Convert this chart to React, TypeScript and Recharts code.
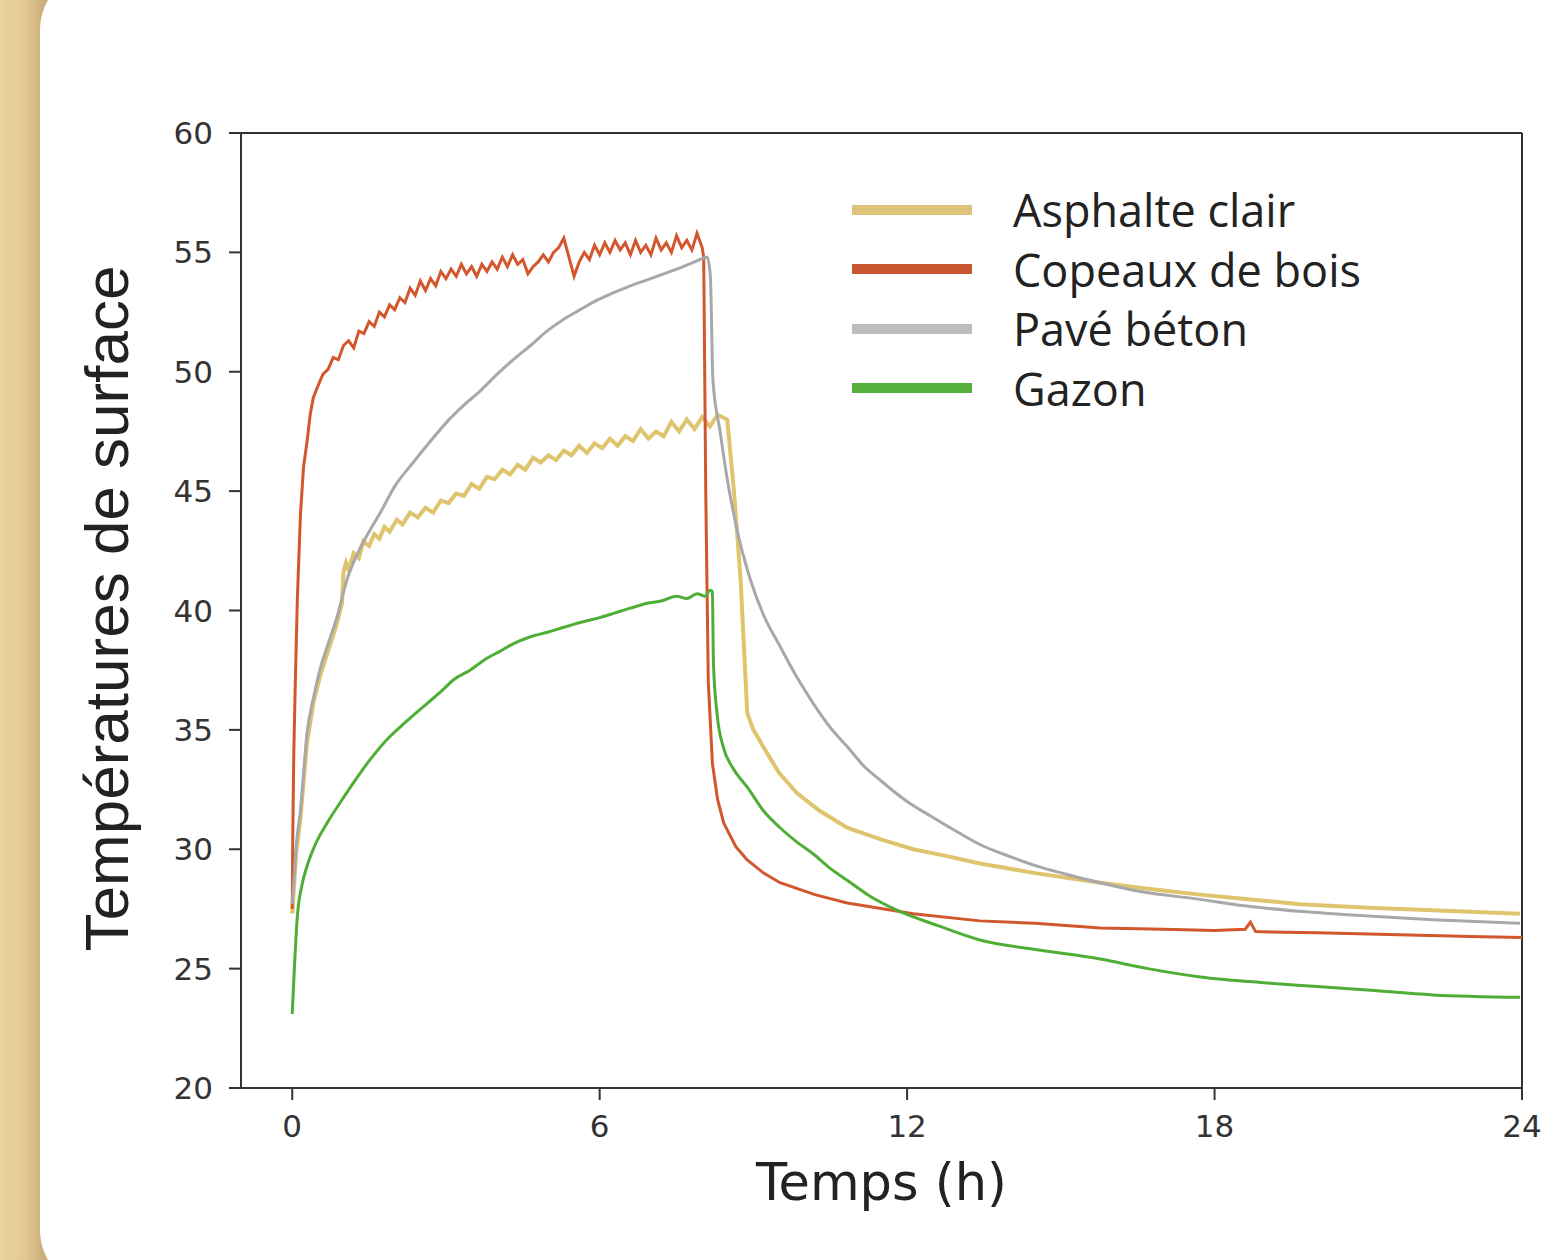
import { LineChart, Line, XAxis, YAxis, Legend, Label, ReferenceLine } from 'recharts'

// temps (h) / température (°C)
const asphalteT = [0, 0.03, 0.08, 0.16, 0.29, 0.42, 0.55, 0.7, 0.85, 0.97, 1.0, 1.05, 1.1, 1.2, 1.3, 1.39, 1.5, 1.6, 1.7, 1.8, 1.9, 2.04, 2.15, 2.3, 2.45, 2.6, 2.75, 2.9, 3.05, 3.2, 3.35, 3.5, 3.65, 3.8, 3.95, 4.1, 4.25, 4.4, 4.55, 4.7, 4.85, 5.0, 5.15, 5.3, 5.45, 5.6, 5.75, 5.9, 6.05, 6.2, 6.35, 6.5, 6.65, 6.8, 6.95, 7.1, 7.25, 7.4, 7.55, 7.7, 7.85, 8.0, 8.15, 8.3, 8.49, 8.62, 8.75, 8.88, 9.0, 9.19, 9.5, 9.85, 10.3, 10.83, 11.5, 12.12, 12.8, 13.42, 14.5, 15.77, 16.7, 17.72, 18.7, 19.67, 21, 22.26, 23.96]
const asphalteV = [27.3, 28.3, 29.9, 31.3, 34.5, 36.2, 37.3, 38.3, 39.3, 40.3, 41.6, 42.0, 41.7, 42.4, 42.2, 42.9, 42.7, 43.2, 43.0, 43.5, 43.3, 43.8, 43.6, 44.1, 43.9, 44.3, 44.1, 44.6, 44.5, 44.9, 44.8, 45.3, 45.1, 45.6, 45.5, 45.9, 45.7, 46.1, 45.9, 46.4, 46.2, 46.5, 46.3, 46.7, 46.5, 46.9, 46.6, 47.0, 46.8, 47.2, 46.9, 47.3, 47.1, 47.6, 47.2, 47.5, 47.3, 47.9, 47.5, 48.0, 47.6, 48.1, 47.7, 48.2, 48.0, 45.0, 41.3, 35.7, 35.0, 34.3, 33.2, 32.35, 31.6, 30.9, 30.4, 30.0, 29.7, 29.4, 29.0, 28.6, 28.35, 28.1, 27.9, 27.7, 27.55, 27.45, 27.3]

const copeauxT = [0, 0.01, 0.03, 0.06, 0.1, 0.16, 0.22, 0.29, 0.35, 0.41, 0.5, 0.6, 0.7, 0.8, 0.9, 1.0, 1.1, 1.2, 1.3, 1.4, 1.5, 1.6, 1.7, 1.8, 1.9, 2.0, 2.1, 2.2, 2.3, 2.4, 2.5, 2.6, 2.7, 2.8, 2.9, 3.0, 3.1, 3.2, 3.3, 3.4, 3.5, 3.6, 3.7, 3.8, 3.9, 4.0, 4.1, 4.2, 4.3, 4.4, 4.5, 4.6, 4.7, 4.8, 4.9, 5.0, 5.1, 5.2, 5.3, 5.4, 5.5, 5.6, 5.7, 5.8, 5.9, 6.0, 6.1, 6.2, 6.3, 6.4, 6.5, 6.6, 6.7, 6.8, 6.9, 7.0, 7.1, 7.2, 7.3, 7.4, 7.5, 7.6, 7.7, 7.8, 7.9, 8.0, 8.03, 8.07, 8.12, 8.2, 8.3, 8.42, 8.66, 8.88, 9.2, 9.52, 10.2, 10.83, 12.12, 13.42, 14.5, 15.77, 17, 18.0, 18.6, 18.7, 18.8, 20, 21, 22, 23, 24]
const copeauxV = [27.5, 30.5, 34.0, 37.0, 40.5, 44.0, 46.0, 47.1, 48.2, 48.9, 49.4, 49.9, 50.1, 50.6, 50.5, 51.1, 51.3, 51.0, 51.7, 51.6, 52.1, 51.9, 52.5, 52.3, 52.8, 52.6, 53.1, 52.9, 53.5, 53.2, 53.8, 53.4, 53.9, 53.6, 54.2, 53.9, 54.3, 54.0, 54.5, 54.1, 54.4, 54.0, 54.5, 54.2, 54.6, 54.3, 54.8, 54.4, 54.9, 54.5, 54.7, 54.1, 54.4, 54.6, 54.9, 54.6, 55.0, 55.2, 55.6, 54.8, 54.0, 54.6, 55.0, 54.7, 55.3, 54.9, 55.4, 55.0, 55.5, 55.1, 55.4, 54.9, 55.5, 55.0, 55.3, 54.9, 55.6, 55.1, 55.4, 55.0, 55.7, 55.2, 55.5, 55.1, 55.8, 55.2, 54.8, 45.0, 37.0, 33.6, 32.1, 31.1, 30.1, 29.55, 29.0, 28.6, 28.1, 27.75, 27.3, 27.0, 26.9, 26.7, 26.65, 26.6, 26.65, 26.95, 26.55, 26.5, 26.45, 26.4, 26.35, 26.3]

const paveT = [0, 0.03, 0.08, 0.16, 0.29, 0.42, 0.55, 0.7, 0.87, 1.07, 1.3, 1.5, 1.72, 2.0, 2.36, 2.7, 3.02, 3.35, 3.67, 4.0, 4.31, 4.65, 4.97, 5.3, 5.62, 5.95, 6.26, 6.6, 6.93, 7.25, 7.57, 7.85, 8.1, 8.16, 8.21, 8.35, 8.49, 8.7, 8.94, 9.2, 9.52, 9.85, 10.17, 10.5, 10.83, 11.15, 11.47, 12.0, 12.45, 13.0, 13.42, 14.0, 14.6, 15.2, 15.77, 16.5, 17.72, 18.7, 19.67, 21, 22.26, 23.96]
const paveV = [27.7, 28.6, 30.2, 31.6, 34.9, 36.4, 37.6, 38.6, 39.7, 41.3, 42.5, 43.3, 44.1, 45.2, 46.2, 47.1, 47.9, 48.6, 49.2, 49.9, 50.5, 51.1, 51.7, 52.2, 52.6, 53.0, 53.3, 53.6, 53.85, 54.1, 54.35, 54.6, 54.8, 54.0, 49.65, 47.5, 45.5, 43.2, 41.3, 39.8, 38.5, 37.2, 36.1, 35.1, 34.3, 33.5, 32.9, 32.0, 31.4, 30.7, 30.2, 29.7, 29.25, 28.9, 28.6, 28.25, 27.9, 27.6, 27.4, 27.2, 27.05, 26.9]

const gazonT = [0, 0.03, 0.06, 0.1, 0.18, 0.29, 0.45, 0.68, 0.95, 1.2, 1.5, 1.85, 2.2, 2.63, 2.9, 3.15, 3.47, 3.8, 4.06, 4.31, 4.65, 5.0, 5.3, 5.62, 6.0, 6.3, 6.6, 6.93, 7.2, 7.5, 7.7, 7.9, 8.05, 8.16, 8.2, 8.22, 8.3, 8.41, 8.6, 8.88, 9.2, 9.52, 9.85, 10.17, 10.5, 10.83, 11.3, 11.8, 12.6, 13.42, 14.5, 15.77, 16.7, 17.72, 19.02, 20.0, 20.98, 22.26, 23.96]
const gazonV = [23.1, 24.5, 25.8, 27.2, 28.4, 29.3, 30.2, 31.1, 32.0, 32.8, 33.7, 34.6, 35.3, 36.1, 36.6, 37.1, 37.5, 38.0, 38.3, 38.6, 38.9, 39.1, 39.3, 39.5, 39.7, 39.9, 40.1, 40.3, 40.4, 40.6, 40.5, 40.7, 40.6, 40.85, 40.8, 37.8, 35.5, 34.3, 33.4, 32.6, 31.6, 30.9, 30.3, 29.8, 29.2, 28.7, 28.0, 27.45, 26.8, 26.2, 25.8, 25.4, 25.0, 24.65, 24.4, 24.25, 24.1, 23.9, 23.8]

const xTicks = [0, 6, 12, 18, 24]
const yTicks = [20, 25, 30, 35, 40, 45, 50, 55, 60]

const pts = (ts: number[], vs: number[]) => ts.map((t, i) => ({ t, v: vs[i] }))

const series = [
  { name: 'Asphalte clair', data: pts(asphalteT, asphalteV), color: '#dfc46e', legend: '#dcc57a', width: 4, curve: 'linear' },
  { name: 'Copeaux de bois', data: pts(copeauxT, copeauxV), color: '#d2572d', legend: '#c9552f', width: 3, curve: 'linear' },
  { name: 'Pavé béton', data: pts(paveT, paveV), color: '#a8a8ab', legend: '#bdbdbd', width: 3, curve: 'monotone' },
  { name: 'Gazon', data: pts(gazonT, gazonV), color: '#4fae35', legend: '#55b040', width: 3, curve: 'monotone' },
]

const tickFont = { fill: '#333', fontSize: 31, fontFamily: 'DejaVu Sans' }

function LegendBox() {
  return (
    <div style={{ fontFamily: 'Open Sans', fontSize: 45, color: '#222' }}>
      {series.map(s => (
        <div key={s.name} style={{ display: 'flex', alignItems: 'center', height: 59.5 }}>
          <div style={{ width: 120, height: 10, background: s.legend, marginRight: 41 }} />
          <span style={{ lineHeight: 1 }}>{s.name}</span>
        </div>
      ))}
    </div>
  )
}

export default function App() {
  return (
    <div style={{ position: 'absolute', left: 0, top: 0, width: 1568, height: 1260, overflow: 'hidden', background: 'linear-gradient(to right, #ecd39f 0px, #e3c892 25px, #c5a875 48px)' }}>
      <div style={{ position: 'absolute', left: 40, top: -30, width: 1600, height: 1320, borderRadius: 60, background: '#fff' }} />
      <div style={{ position: 'absolute', left: 0, top: 0 }}>
        <LineChart width={1568} height={1260} margin={{ top: 133, right: 46, left: 0, bottom: 0 }}>
          <XAxis
            dataKey="t" type="number" domain={[-1, 24]} ticks={xTicks} allowDataOverflow
            height={172} tickSize={12} tickMargin={15}
            stroke="#333" strokeWidth={2} tick={tickFont}
          >
            <Label value="Temps (h)" position="insideBottom" offset={60}
              style={{ fontFamily: 'DejaVu Sans', fontSize: 51, fill: '#222' }} />
          </XAxis>
          <YAxis
            type="number" domain={[20, 60]} ticks={yTicks} allowDataOverflow
            width={241} tickSize={12} tickMargin={16}
            stroke="#333" strokeWidth={2} tick={tickFont}
          >
            <Label
              content={(p: any) => {
                const vb = p.viewBox
                const cx = 128
                const cy = vb.y + vb.height / 2 - 2
                return (
                  <text x={cx} y={cy} transform={`rotate(-90 ${cx} ${cy})`} textAnchor="middle"
                    style={{ fontFamily: 'Liberation Sans', fontSize: 62, fill: '#222' }}>
                    Températures de surface
                  </text>
                )
              }}
            />
          </YAxis>
          <ReferenceLine y={60} stroke="#333" strokeWidth={2} />
          <ReferenceLine x={24} stroke="#333" strokeWidth={2} />
          {series.map(s => (
            <Line key={s.name} data={s.data} dataKey="v" name={s.name} type={s.curve as any}
              stroke={s.color} strokeWidth={s.width} dot={false} activeDot={false}
              isAnimationActive={false} />
          ))}
          <Legend layout="horizontal" verticalAlign="middle" align="center" content={() => <LegendBox />}
            wrapperStyle={{ left: 852, top: 180, width: 'auto', bottom: 'auto' }} />
        </LineChart>
      </div>
    </div>
  )
}
